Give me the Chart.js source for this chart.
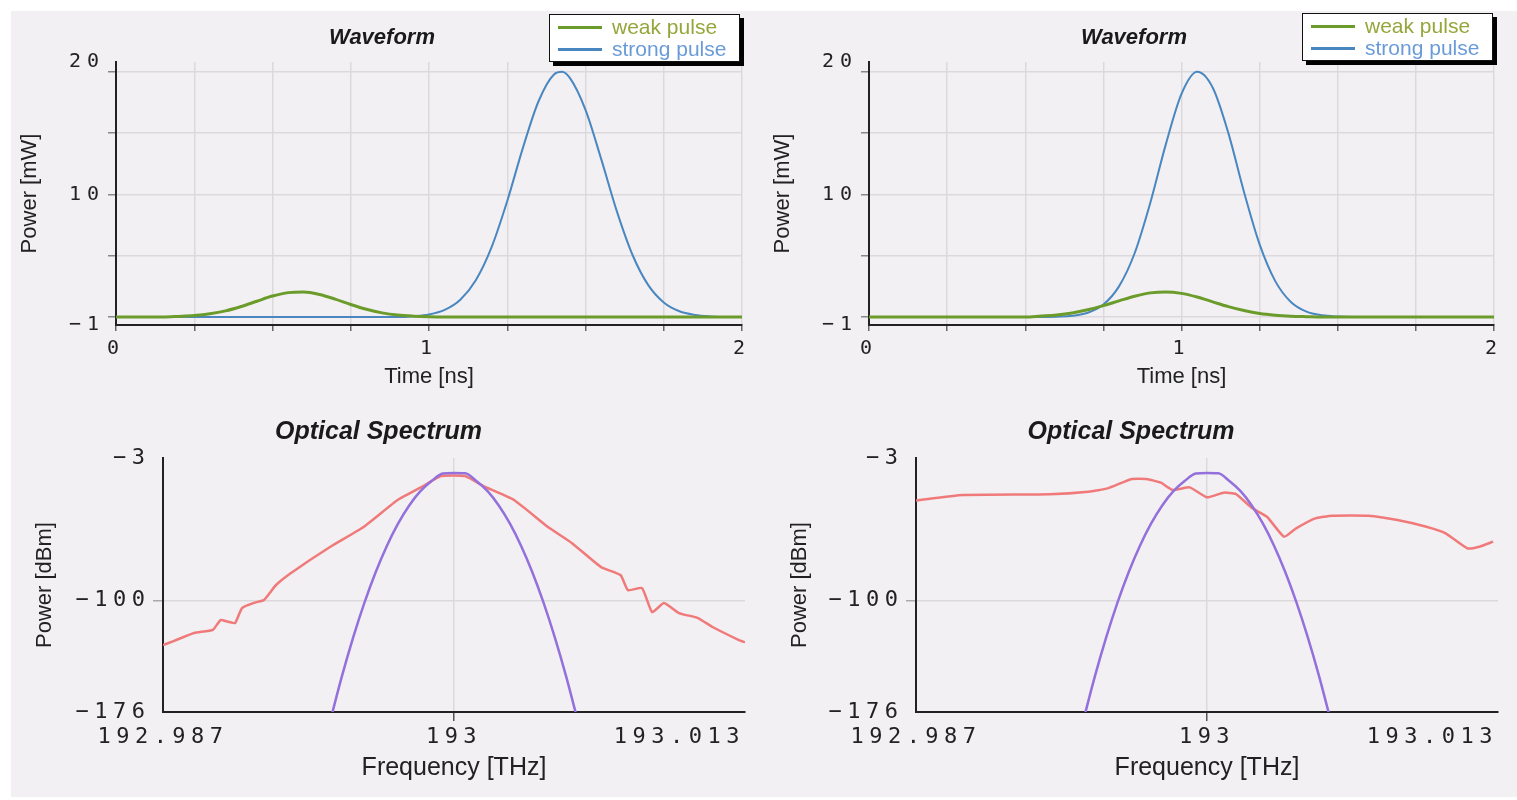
<!DOCTYPE html>
<html>
<head>
<meta charset="utf-8">
<script src="https://cdn.jsdelivr.net/npm/chart.js@4/dist/chart.umd.min.js"></script>
<style>
html,body{margin:0;padding:0;background:#fff;width:1517px;height:800px;overflow:hidden;}
#panel{position:absolute;left:11px;top:11px;width:1506px;height:786px;background:#f2f0f3;}
canvas{position:absolute;}
.legend{position:absolute;background:#fff;border:1px solid #111;box-shadow:4px 4px 0 #000;
  font-family:"Liberation Sans",Arial,sans-serif;font-size:21px;box-sizing:border-box;padding:1px 0 0 8px;}
.legend .row{display:flex;align-items:center;height:22px;white-space:nowrap;}
.legend .sw{display:inline-block;width:44px;height:3px;margin-right:10px;}
</style>
</head>
<body>
<div id="panel"></div>
<canvas id="wf1" width="745" height="392" style="left:11px;top:11px;width:745px;height:392px"></canvas>
<canvas id="wf2" width="761" height="392" style="left:756px;top:11px;width:761px;height:392px"></canvas>
<canvas id="sp1" width="745" height="394" style="left:11px;top:403px;width:745px;height:394px"></canvas>
<canvas id="sp2" width="761" height="394" style="left:756px;top:403px;width:761px;height:394px"></canvas>
<script>
// ---------- data ----------
const seriesLabels = ['weak pulse', 'strong pulse'];

const wf1Time = [0,0.05,0.1,0.15,0.2,0.25,0.3,0.35,0.4,0.45,0.5,0.55,0.6,0.65,0.7,0.75,0.8,0.85,0.9,0.95,
                 1,1.05,1.1,1.15,1.2,1.25,1.3,1.35,1.4,1.425,1.45,1.5,1.55,1.6,1.65,1.7,1.75,1.8,1.85,1.9,1.95,2];
const wf1Weak = [0,0,0,0,0.05,0.12,0.26,0.5,0.86,1.29,1.71,1.99,2.04,1.84,1.46,1.02,0.63,0.34,0.16,0.07,
                 0.02,0,0,0,0,0,0,0,0,0,0,0,0,0,0,0,0,0,0,0,0,0];
const wf1Strong = [0,0,0,0,0,0,0,0,0,0,0,0,0,0,0,0,0,0,0,0.07,
                   0.21,0.58,1.41,3.02,5.7,9.46,13.8,17.6,19.8,20,19.5,16.9,12.9,8.64,5.08,2.62,1.19,0.47,0.17,0.05,0,0];

const wf2Time = [0,0.05,0.1,0.15,0.2,0.25,0.3,0.35,0.4,0.45,0.5,0.55,0.6,0.65,0.7,0.75,0.8,0.85,0.9,0.95,
                 1,1.05,1.1,1.15,1.2,1.25,1.3,1.35,1.4,1.45,1.5,1.55,1.6,1.65,1.7,1.75,1.8,1.85,1.9,1.95,2];
const wf2Weak = [0,0,0,0,0,0,0,0,0,0,0,0.08,0.17,0.33,0.59,0.93,1.32,1.7,1.97,2.05,
                 1.93,1.63,1.24,0.85,0.53,0.29,0.15,0.07,0.03,0,0,0,0,0,0,0,0,0,0,0,0];
const wf2Strong = [0,0,0,0,0,0,0,0,0,0,0,0,0.03,0.1,0.35,1.02,2.5,5.2,9.3,14.1,
                   18.2,20,18.7,15.0,10.2,5.92,2.93,1.23,0.44,0.14,0.04,0,0,0,0,0,0,0,0,0,0];

const wfXTicks = [0,0.25,0.5,0.75,1,1.25,1.5,1.75,2];
const wfXTickLabels = ['0','','','','1','','','','2'];
const wfYTicks = [-0.65,0,5,10,15,20,20.8];
const wfYTickLabels = ['\u22121','','','10','','','20'];

const specInFreq = [192.9945,192.995,192.9955,192.996,192.9965,192.997,192.9975,192.998,192.9985,192.999,192.9995,
                    193,193.0005,193.001,193.0015,193.002,193.0025,193.003,193.0035,193.004,193.0045,193.005,193.0055];
const specInPower = [-180.2,-151.2,-125,-101.5,-80.8,-62.9,-47.7,-35.3,-25.6,-18.7,-13.6,
                     -13.2,-13.4,-18.7,-25.6,-35.3,-47.7,-62.9,-80.8,-101.5,-125,-151.2,-180.2];

const spec1OutFreq = [192.987,192.9875,192.98839,192.98923,192.98957,192.9899,192.99022,192.99053,192.9911,192.99151,
                      192.99205,192.99272,192.99446,192.99596,192.99748,192.99856,192.99942,193.00049,193.00139,193.00268,
                      193.0042,193.00527,193.00657,193.00744,193.00777,193.0084,193.00885,193.00938,193.01005,193.0109,
                      193.01155,193.01273,193.013];
const spec1OutPower = [-130.5,-127.5,-122.2,-120,-113.4,-114.5,-115.4,-105.2,-101.5,-99.7,
                       -89.5,-81.3,-63.6,-50,-31.6,-22.7,-15.3,-15.3,-22.7,-31.6,
                       -50,-61,-77.3,-82.7,-93,-91.6,-108,-101.8,-108.6,-112,
                       -118.1,-127,-128.5];

const spec2OutFreq = [192.987,192.98715,192.98909,192.99297,192.9947,192.99556,192.99664,192.99729,192.99794,192.99847,
                      192.99923,193,193.00074,193.00128,193.00203,193.00268,193.00344,193.00398,193.00484,193.00559,
                      193.00721,193.00851,193.0098,193.01066,193.01163,193.01217,193.01278];
const spec2OutPower = [-32,-31.6,-28.2,-27.7,-26,-23.7,-17.3,-17.3,-19.8,-24.8,
                       -23,-29.8,-26.6,-27.5,-37.3,-43,-56.6,-50.9,-44.1,-42.3,
                       -42.3,-45.2,-49.8,-54.3,-64.5,-63.4,-60];

const specXTicks = [192.987,193,193.013];
const specXTickLabels = ['192.987','193','193.013'];
const specYTicks = [-176,-100,-3];
const specYTickLabels = ['\u2212176','\u2212100','\u22123'];

// ---------- styles ----------
const SANS = '"Liberation Sans", Arial, sans-serif';
const MONO = '"DejaVu Sans Mono", monospace';
const lineColors = ['#6b9b2a', '#4a87c0'];
const legendTextColors = ['#95a63a', '#6a9bd8'];
const specColors = ['#9370db', '#f07a7a'];
const gridGray = '#dbd9dc';
const NONE = 'rgba(0,0,0,0)';

const tickSpacing = {
  id: 'tickSpacing',
  afterUpdate(chart, args, opts) {
    const px = opts.px || 0;
    Object.values(chart.scales).forEach(s => {
      if (s._spacedPatch) return;
      const orig = s.drawLabels;
      s.drawLabels = function (area) {
        const ctx = this.ctx;
        ctx.save();
        try { ctx.letterSpacing = px + 'px'; } catch (e) {}
        orig.call(this, area);
        ctx.restore();
      };
      s._spacedPatch = true;
    });
  },
  beforeDraw(chart) {
    const s = chart.scales.x;
    if (s && s.options.ticks.align === 'inner') {
      const items = s.getLabelItems();
      if (items.length) items[0].options.textAlign = 'center';
    }
  }
};

function pts(xs, ys) { return xs.map((x, i) => ({x: x, y: ys[i]})); }

function waveform(id, time, weak, strong, lay) {
  return new Chart(document.getElementById(id), {
    type: 'line',
    data: {datasets: [
      {label: seriesLabels[0], data: pts(time, weak), borderColor: lineColors[0], borderWidth: 3,
       pointRadius: 0, cubicInterpolationMode: 'monotone'},
      {label: seriesLabels[1], data: pts(time, strong), borderColor: lineColors[1], borderWidth: 2,
       pointRadius: 0, cubicInterpolationMode: 'monotone'}
    ]},
    options: {
      responsive: false, animation: false, events: [],
      layout: {padding: {left: lay.pl, right: lay.pr, top: 0, bottom: 0}},
      plugins: {
        legend: {display: false}, tooltip: {enabled: false},
        title: {display: true, text: 'Waveform', color: '#1a1a1a',
                font: {family: SANS, size: 22, weight: 'bold', style: 'italic'},
                padding: {top: 13.8, bottom: 10.8}},
        tickSpacing: {px: 6}
      },
      scales: {
        x: {
          type: 'linear', min: 0, max: 2,
          afterBuildTicks: s => { s.ticks = wfXTicks.map(v => ({value: v})); },
          afterFit: s => { s.height = 78; },
          ticks: {autoSkip: false, maxRotation: 0, minRotation: 0, padding: 6, color: '#222',
                  font: {family: MONO, size: 20}, callback: (v, i) => wfXTickLabels[i]},
          grid: {color: c => (c.tick && c.tick.value === 0) ? NONE : gridGray, lineWidth: 1.5,
                 tickLength: 6, tickColor: '#666', tickWidth: 1.5},
          border: {color: '#222', width: 2},
          title: {display: true, text: 'Time [ns]', color: '#222', font: {family: SANS, size: 22},
                  padding: {top: 0, bottom: 12.8}}
        },
        y: {
          type: 'linear', min: -0.65, max: 20.8,
          afterBuildTicks: s => { s.ticks = wfYTicks.map(v => ({value: v})); },
          afterFit: s => { s.width = lay.yw; },
          ticks: {autoSkip: false, padding: 3, color: '#222', font: {family: MONO, size: 20},
                  callback: (v, i) => wfYTickLabels[i]},
          grid: {color: c => (c.tick && (c.tick.value < 0 || c.tick.value > 20.5)) ? NONE : gridGray,
                 lineWidth: 1.5, tickLength: 8,
                 tickColor: c => (c.tick && (c.tick.value < 0 || c.tick.value > 20.5)) ? NONE : '#888'},
          border: {color: '#222', width: 2},
          title: {display: true, text: 'Power [mW]', color: '#222', font: {family: SANS, size: 22},
                  padding: {top: lay.tt, bottom: 0}}
        }
      }
    },
    plugins: [tickSpacing]
  });
}

function spectrum(id, outF, outP, lay) {
  return new Chart(document.getElementById(id), {
    type: 'line',
    data: {datasets: [
      {label: 'input', data: pts(specInFreq, specInPower), borderColor: specColors[0], borderWidth: 2.5,
       pointRadius: 0, cubicInterpolationMode: 'monotone'},
      {label: 'output', data: pts(outF, outP), borderColor: specColors[1], borderWidth: 2.5,
       pointRadius: 0, tension: 0.15}
    ]},
    options: {
      responsive: false, animation: false, events: [],
      layout: {padding: {left: lay.pl, right: lay.pr, top: 0, bottom: 0}},
      plugins: {
        legend: {display: false}, tooltip: {enabled: false},
        title: {display: true, text: 'Optical Spectrum', color: '#1a1a1a',
                font: {family: SANS, size: 25, weight: 'bold', style: 'italic'},
                padding: {top: 14, bottom: 11}},
        tickSpacing: {px: 5.5}
      },
      scales: {
        x: {
          type: 'linear', min: specXTicks[0], max: specXTicks[2],
          afterBuildTicks: s => { s.ticks = specXTicks.map(v => ({value: v})); },
          afterFit: s => { s.height = 85; },
          ticks: {autoSkip: false, maxRotation: 0, minRotation: 0, padding: 3, align: 'inner', color: '#222',
                  font: {family: MONO, size: 22}, callback: (v, i) => specXTickLabels[i]},
          grid: {color: c => (c.tick && c.tick.value === 193) ? gridGray : NONE, lineWidth: 1.5,
                 tickLength: 9, tickColor: c => (c.tick && c.tick.value === 193) ? '#555' : NONE, tickWidth: 1.5},
          border: {color: '#222', width: 2},
          title: {display: true, text: 'Frequency [THz]', color: '#222', font: {family: SANS, size: 25},
                  padding: {top: 0, bottom: 14}}
        },
        y: {
          type: 'linear', min: specYTicks[0], max: specYTicks[2],
          afterBuildTicks: s => { s.ticks = specYTicks.map(v => ({value: v})); },
          afterFit: s => { s.width = lay.yw; },
          ticks: {autoSkip: false, padding: 2.5, color: '#222', font: {family: MONO, size: 22},
                  callback: (v, i) => specYTickLabels[i]},
          grid: {color: c => (c.tick && c.tick.value === -100) ? gridGray : NONE, lineWidth: 1.5,
                 tickLength: 10, tickColor: c => (c.tick && c.tick.value === -100) ? '#aaa' : NONE},
          border: {color: '#222', width: 2},
          title: {display: true, text: 'Power [dBm]', color: '#222', font: {family: SANS, size: 22},
                  padding: {top: lay.tt, bottom: 0}}
        }
      }
    },
    plugins: [tickSpacing]
  });
}

function addLegend(chart, left, top) {
  const box = document.createElement('div');
  box.className = 'legend';
  box.style.left = left + 'px'; box.style.top = top + 'px';
  box.style.width = '191px'; box.style.height = '48px';
  chart.data.datasets.forEach((ds, i) => {
    const row = document.createElement('div'); row.className = 'row';
    const sw = document.createElement('span'); sw.className = 'sw'; sw.style.background = ds.borderColor;
    const tx = document.createElement('span'); tx.textContent = ds.label; tx.style.color = legendTextColors[i];
    row.appendChild(sw); row.appendChild(tx); box.appendChild(row);
  });
  document.body.appendChild(box);
}

const c1 = waveform('wf1', wf1Time, wf1Weak, wf1Strong, {pl: 11, pr: 14, yw: 94, tt: -5.2});
const c2 = waveform('wf2', wf2Time, wf2Weak, wf2Strong, {pl: 18, pr: 23, yw: 95, tt: -4.2});
spectrum('sp1', spec1OutFreq, spec1OutPower, {pl: 1, pr: 11, yw: 151, tt: 19.8});
spectrum('sp2', spec2OutFreq, spec2OutPower, {pl: 8, pr: 19, yw: 152, tt: 22.8});
addLegend(c1, 549, 14);
addLegend(c2, 1302, 13);
</script>
</body>
</html>
